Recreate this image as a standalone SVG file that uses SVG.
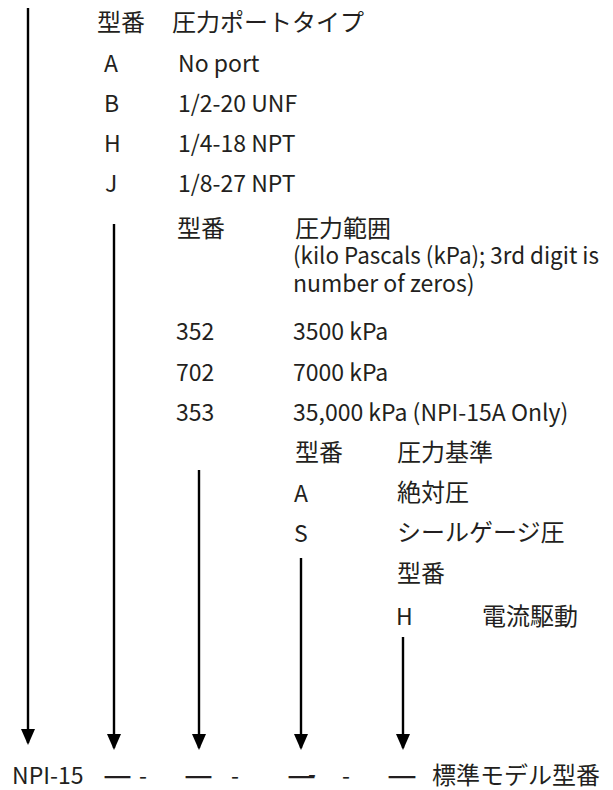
<svg xmlns="http://www.w3.org/2000/svg" width="613" height="790" viewBox="0 0 613 790">
<style>
text{font-family:"Noto Sans CJK JP","Noto Sans",sans-serif;font-size:24px;fill:#231f20}
text.l{font-size:23px}
text.d{font-weight:bold}
.c line{stroke:#000;stroke-width:2.4}
</style>
<defs>
<marker id="ah" markerUnits="userSpaceOnUse" markerWidth="16" markerHeight="18" refX="14" refY="8" orient="auto" viewBox="0 0 16 16">
<path d="M0,1 L16,8 L0,15 Z" fill="#000"/>
</marker>
</defs>
<rect width="613" height="790" fill="#fff"/>
<g id="connectors" class="c">
<line x1="28" y1="8" x2="28" y2="743" marker-end="url(#ah)"/>
<line x1="114" y1="224" x2="114" y2="748" marker-end="url(#ah)"/>
<line x1="199" y1="470" x2="199" y2="748" marker-end="url(#ah)"/>
<line x1="301" y1="558" x2="301" y2="748" marker-end="url(#ah)"/>
<line x1="403" y1="637" x2="403" y2="748" marker-end="url(#ah)"/>
</g>
<g id="port-type">
<text x="97" y="31">型番</text>
<text x="172" y="31">圧力ポートタイプ</text>
<text class="l" x="104" y="72">A</text><text class="l" x="178" y="72">No port</text>
<text class="l" x="104" y="112">B</text><text class="l" x="178" y="112">1/2-20 UNF</text>
<text class="l" x="104" y="152">H</text><text class="l" x="178" y="152">1/4-18 NPT</text>
<text class="l" x="105" y="192">J</text><text class="l" x="178" y="192">1/8-27 NPT</text>
</g>
<g id="pressure-range">
<text x="177" y="237">型番</text>
<text x="295" y="237">圧力範囲</text>
<text class="l" x="293" y="264" textLength="306" lengthAdjust="spacingAndGlyphs">(kilo Pascals (kPa); 3rd digit is</text>
<text class="l" x="293" y="292">number of zeros)</text>
<text class="l" x="176" y="340">352</text><text class="l" x="293" y="340">3500 kPa</text>
<text class="l" x="176" y="381">702</text><text class="l" x="293" y="381">7000 kPa</text>
<text class="l" x="176" y="421">353</text><text class="l" x="293" y="421">35,000 kPa (NPI-15A Only)</text>
</g>
<g id="pressure-reference">
<text x="295" y="461">型番</text>
<text x="397" y="461">圧力基準</text>
<text class="l" x="294" y="502">A</text><text x="397" y="501">絶対圧</text>
<text class="l" x="294" y="542">S</text><text x="397" y="541">シールゲージ圧</text>
</g>
<g id="drive">
<text x="397" y="582">型番</text>
<text class="l" x="396" y="625">H</text><text x="482" y="625">電流駆動</text>
</g>
<g id="model-number">
<text class="l" x="12" y="784">NPI-15</text>
<text class="l d" x="103" y="784" textLength="29" lengthAdjust="spacingAndGlyphs">—</text><text class="l" x="139" y="784">-</text>
<text class="l d" x="184" y="784" textLength="29" lengthAdjust="spacingAndGlyphs">—</text><text class="l" x="231" y="784">-</text>
<text class="l d" x="287" y="784" textLength="29" lengthAdjust="spacingAndGlyphs">—</text><text class="l" x="308" y="781.5">-</text><text class="l" x="342" y="784">-</text>
<text class="l d" x="387" y="784" textLength="30" lengthAdjust="spacingAndGlyphs">—</text>
<text x="432" y="784">標準モデル型番</text>
</g>
</svg>
